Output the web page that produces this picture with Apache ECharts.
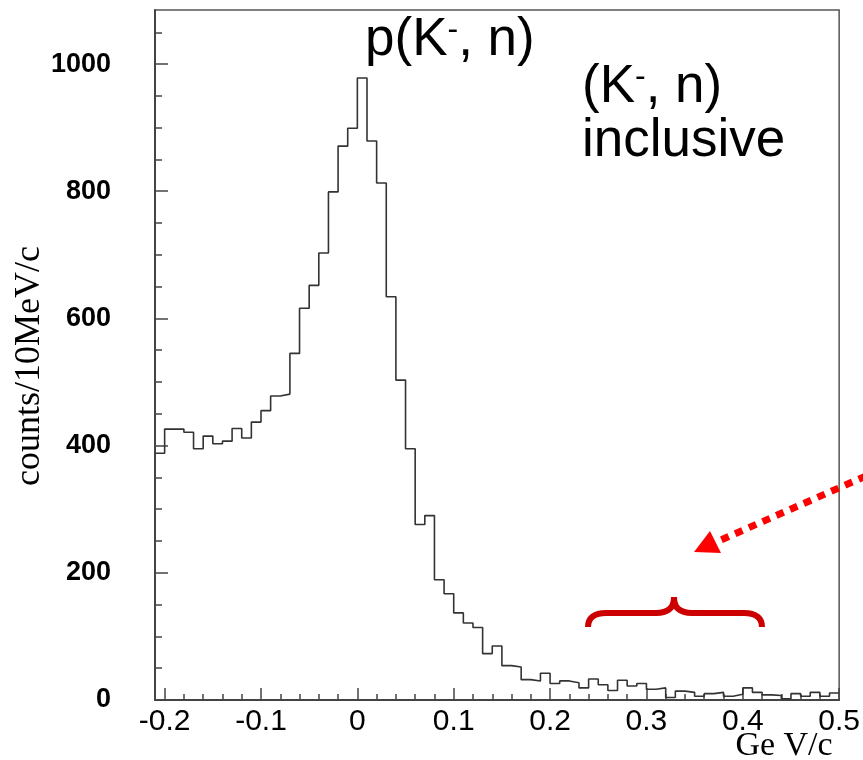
<!DOCTYPE html>
<html lang="en">
<head>
    <meta charset="UTF-8">
    <title>p(K-, n) inclusive</title>
    <script src="https://cdn.jsdelivr.net/npm/echarts@6/dist/echarts.min.js"></script>
    <style>
        html, body { margin: 0; padding: 0; background: #fff; }
        #chart { width: 863px; height: 760px; }
    </style>
</head>
<body>
<div id="chart"></div>
<script>
    // histogram: 10 MeV/c bins starting at -0.21 GeV/c
    var binStart = -0.21;
    var binWidth = 0.01;
    var counts = [
        388, 426, 426, 421, 395, 415, 403, 407, 427, 412,
        437, 455, 478, 481, 545, 616, 652, 703, 799, 871,
        899, 978, 879, 813, 634, 503, 395, 276, 290, 189,
        167, 137, 121, 114, 73, 85, 54, 52, 32, 30,
        42, 26, 30, 27, 19, 33, 24, 15, 31, 22,
        26, 17, 19, 4, 14, 12, 6, 10, 12, 6,
        9, 19, 12, 8, 7, 2, 10, 6, 12, 6,
        11
    ];
    var xTickLabels = [-0.2, -0.1, 0, 0.1, 0.2, 0.3, 0.4, 0.5];
    var yTickLabels = [0, 200, 400, 600, 800, 1000];

    var xMin = -0.21, xMax = 0.5, yMax = 1085;

    // minor ticks: every 0.02 on x, every 50 on y
    var xMinor = [];
    for (var k = -10; k <= 25; k++) {
        if (k % 5 !== 0) xMinor.push(+(k * 0.02).toFixed(2));
    }
    var yMinor = [];
    for (var m = 50; m <= 1050; m += 50) {
        if (m % 200 !== 0) yMinor.push(m);
    }

    // step outline: left edge of each bin, plus the right edge of the last one
    var steps = counts.map(function (c, i) {
        return [+(binStart + i * binWidth).toFixed(2), c];
    });
    steps.push([+(binStart + counts.length * binWidth).toFixed(2), counts[counts.length - 1]]);

    var axisColor = '#444';
    var sans = 'Liberation Sans, Arial, sans-serif';
    var serif = 'Liberation Serif, Times New Roman, serif';
    var braceStyle = {fill: 'none', stroke: '#cc0000', lineWidth: 6};
    var chart = echarts.init(document.getElementById('chart'));
    var option = {
        animation: false,
        backgroundColor: '#fff',
        grid: {
            left: 155, right: 15, top: 10, bottom: 60,
            show: true, borderColor: '#555', borderWidth: 1.5
        },
        xAxis: [
            {
                type: 'value', min: xMin, max: xMax, position: 'bottom',
                axisLine: {show: true, onZero: false, lineStyle: {color: axisColor, width: 2}},
                axisTick: {show: true, inside: true, length: 12, customValues: xTickLabels,
                    lineStyle: {color: axisColor, width: 1.5}},
                axisLabel: {
                    customValues: xTickLabels, margin: 7,
                    fontFamily: sans, fontSize: 30, color: '#000',
                    formatter: function (v) { return String(+v.toFixed(1)); }
                },
                splitLine: {show: false}
            },
            {
                type: 'value', min: xMin, max: xMax, position: 'bottom',
                axisLine: {show: false, onZero: false},
                axisTick: {show: true, inside: true, length: 6, customValues: xMinor,
                    lineStyle: {color: axisColor, width: 1.5}},
                axisLabel: {show: false},
                splitLine: {show: false}
            }
        ],
        yAxis: [
            {
                type: 'value', min: 0, max: yMax, position: 'left',
                axisLine: {show: true, onZero: false, lineStyle: {color: axisColor, width: 2}},
                axisTick: {show: true, inside: true, length: 13, customValues: yTickLabels,
                    lineStyle: {color: axisColor, width: 1.5}},
                axisLabel: {
                    customValues: yTickLabels, margin: 44,
                    fontFamily: sans, fontWeight: 'bold', fontSize: 27, color: '#000',
                    formatter: function (v) { return String(v); }
                },
                splitLine: {show: false}
            },
            {
                type: 'value', min: 0, max: yMax, position: 'left',
                axisLine: {show: false, onZero: false},
                axisTick: {show: true, inside: true, length: 7, customValues: yMinor,
                    lineStyle: {color: axisColor, width: 1.5}},
                axisLabel: {show: false},
                splitLine: {show: false}
            }
        ],
        series: [
            {
                type: 'line',
                step: 'end',
                xAxisIndex: 0,
                yAxisIndex: 0,
                data: steps,
                showSymbol: false,
                lineStyle: {color: '#333', width: 1.6}
            }
        ],
        graphic: [
            {
                type: 'text', x: 365, y: 14,
                style: {
                    text: '{a|p(K}{s|-}{a|, n)}',
                    rich: {
                        a: {fontSize: 53, fontFamily: sans, fill: '#000'},
                        s: {fontSize: 32, fontFamily: sans, fill: '#000', verticalAlign: 'top'}
                    }
                }
            },
            {
                type: 'text', x: 582, y: 61,
                style: {
                    text: '{a|(K}{s|-}{a|, n)}',
                    rich: {
                        a: {fontSize: 53, fontFamily: sans, fill: '#000'},
                        s: {fontSize: 32, fontFamily: sans, fill: '#000', verticalAlign: 'top'}
                    }
                }
            },
            {
                type: 'text', x: 582, y: 115,
                style: {text: 'inclusive', fontSize: 53, fontFamily: sans, fill: '#000'}
            },
            {
                type: 'text', x: 784, y: 746,
                style: {
                    text: 'Ge V/c', fontSize: 34, align: 'center', verticalAlign: 'middle',
                    fontFamily: serif, fill: '#000'
                }
            },
            {
                type: 'text', x: 30, y: 366, rotation: Math.PI / 2,
                style: {
                    text: 'counts/10MeV/c', fontSize: 36, align: 'center', verticalAlign: 'middle',
                    fontFamily: serif, fill: '#000'
                }
            },
            // red brace over the tail
            {type: 'bezierCurve', shape: {x1: 588, y1: 627, cpx1: 588, cpy1: 618, cpx2: 594, cpy2: 613, x2: 606, y2: 613}, style: braceStyle},
            {type: 'line', shape: {x1: 605, y1: 613, x2: 657, y2: 613}, style: braceStyle},
            {type: 'bezierCurve', shape: {x1: 656, y1: 613, cpx1: 668, cpy1: 613, cpx2: 674, cpy2: 608, x2: 674, y2: 597}, style: braceStyle},
            {type: 'bezierCurve', shape: {x1: 674, y1: 597, cpx1: 674, cpy1: 608, cpx2: 680, cpy2: 613, x2: 692, y2: 613}, style: braceStyle},
            {type: 'line', shape: {x1: 691, y1: 613, x2: 745, y2: 613}, style: braceStyle},
            {type: 'bezierCurve', shape: {x1: 744, y1: 613, cpx1: 756, cpy1: 613, cpx2: 762, cpy2: 618, x2: 762, y2: 627}, style: braceStyle},
            // dotted red arrow
            {
                type: 'line',
                shape: {x1: 866, y1: 476, x2: 714, y2: 543},
                style: {stroke: '#ff0000', lineWidth: 7, lineDash: [8, 7]}
            },
            {
                type: 'polygon',
                shape: {points: [[694, 552], [710, 531], [721, 553]]},
                style: {fill: '#ff0000'}
            }
        ]
    };
    chart.setOption(option);
</script>
</body>
</html>
